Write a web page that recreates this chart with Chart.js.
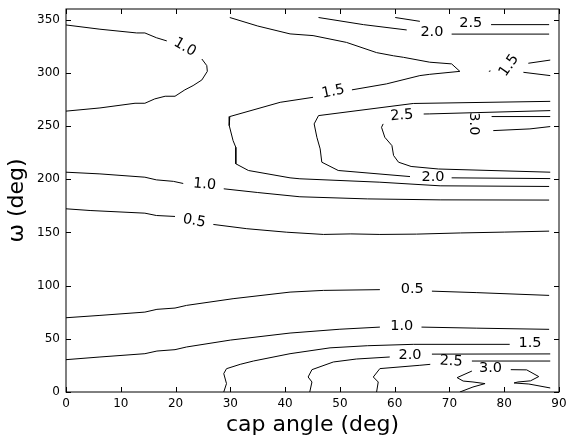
<!DOCTYPE html>
<html>
<head>
<meta charset="utf-8">
<script src="https://cdn.jsdelivr.net/npm/chart.js@4/dist/chart.umd.min.js"></script>
<style>
  html, body { margin: 0; padding: 0; background: #fff; }
  #wrap { width: 568px; height: 439px; }
</style>
</head>
<body>
<div id="wrap"><canvas id="contourChart"></canvas></div>
<script>
// Tick values
const xTicks = [0, 10, 20, 30, 40, 50, 60, 70, 80, 90];
const yTicks = [0, 50, 100, 150, 200, 250, 300, 350];

// Contour lines as [cap angle, omega] pairs, null = gap for an inline label
const lvl05Upper = [[0,172.2],[4.4,170.6],[14.4,168.1],[16.5,165.9],[19.9,165],null,[26.9,157.5],[33,153.5],[40.3,150.2],[47,148.1],[52,148.6],[57.3,148.1],[64,148.4],[72,149.5],[80,150.3],[88.2,151.2]];
const lvl05Lower = [[0,69.8],[6.2,72],[14.4,75.1],[16.6,77.7],[19.9,78.9],[22,81.4],[30.5,87.7],[40.9,93.9],[47,95.5],[57.3,96.2],null,[66.8,94.8],[75,93.4],[88.2,90.8]];
const lvl10Loop = [[0,345],[6.2,341],[12.9,337.5],[14.4,337.5],[16.5,333],[18.4,330],null,[24.8,313],[25.7,306.8],[25.8,301.4],[24.8,293.3],[23.2,288],[21.7,284],[19.9,278],[18.1,278],[16.2,275.5],[14.4,271.4],[12.6,271.4],[6.2,267],[0,264]];
const lvl10Mid = [[0,206.6],[6.2,205],[14.4,201.9],[16.5,199.4],[19.6,198],[21.4,196],null,[28.8,191],[35,187.5],[42.7,183.5],[55,181.5],[68.3,180.6],[88.2,180.4]];
const lvl10Low = [[0,30.4],[6.2,32.9],[14.4,36],[16.6,38.5],[19.9,39.8],[22,42.3],[30,48.8],[40.9,55.4],[50,59],[57.3,61],null,[64.9,61],[75,60],[88.2,58.9]];
const lvl15Main = [[29.9,352],[35,344],[40.9,336.6],[45.1,335],[51.2,328.6],[56.7,319],[59.8,316],[61.6,314.6],[66.4,310],[70.4,308.4],[71.9,301.4],[66.4,298.6],[64.6,297.4],[58.5,289.6],[52.2,284],null,[45.1,277],[39.1,272.3],[29.9,258.9],[29.8,250.4],[30.5,236.3],[31,230],[31,214.5],[33.3,208.2],[40.9,201.3],[42.7,200.4],[57.3,197.2],[68.3,193.8],[88.2,193.2]];
const lvl15Edge = [[88.4,312],[84.4,309],null,[83.5,300.5],[88.4,297.4]];
const lvl15Dot = [[77.2,301.4],[77.5,301.8]];
const lvl15Low = [[28.8,0],[29.3,7.9],[28.8,17.3],[29.3,21.9],[31.8,26],[34.2,29.1],[40.9,36],[48.2,41.5],[55,43.5],[63.4,44.8],[81,44.8]];
const lvl20Top = [[46.1,352],[54.3,345.3],[62.2,340.3],null,[70.4,336.4],[88.2,336.4]];
const lvl20Inner = [[88.4,273.2],[63.4,271.2],[46.1,259.8],[45.3,252],[45.8,239.4],[46.4,228.5],[46.7,216],[49.7,208.2],[62.8,202.5],null,[70.4,201.3],[88.4,200.6]];
const lvl20Low = [[44.5,0],[44.9,9.4],[44.2,14.1],[44.9,21],[48.8,28.2],[53,31],[59.1,32.9],null,[66.8,35.6],[88.4,35.8]];
const lvl25Top = [[60.1,352],[64.6,348.4],null,[77.6,345.3],[88.2,345.3]];
const lvl25Inner = [[88.4,264.5],[66.4,261.4],[65.3,261.3],null,[57.9,252],[57.6,248.8],[58.2,239.4],[59.5,231.6],[59.8,222.3],[60.7,216],[63,212],[68,209.6],[88.4,206.6]];
const lvl25Low = [[56.7,0],[57,9.4],[56.1,14.1],[57.3,22],[64.6,25.1],[66.5,26],null,[74.1,29.1],[88.4,29.1]];
const lvl30Inner = [[88.4,258.9],[77.7,258.9],null,[78,245.7],[84.7,247.3],[88.4,249.5]];
const lvl30Low = [[71.9,0],[74.3,4.7],[76.5,7.9],[74.3,9.4],[72.5,10.3],[71.4,13.5],[74.1,19.7],null,[81.2,21],[84.1,20.8],[86.3,14.5],[84.8,10.5],[82.5,9.4],[81.8,8.5],[84.5,7.5],[88.4,3.8]];

// Inline contour labels
const labelText = ['1.0', '1.5', '2.0', '2.5', '1.5', '2.5', '3.0', '2.0', '1.0', '0.5', '0.5', '1.0', '1.5', '2.0', '2.5', '3.0'];
const labelX = [21.7, 48.8, 66.8, 73.9, 80.9, 61.3, 74.4, 67, 25.3, 23.4, 63.2, 61.3, 84.7, 62.8, 70.3, 77.5];
const labelY = [324, 282.2, 338.5, 346.8, 306.8, 259.8, 252, 202, 195, 160.7, 96.2, 61.7, 45.4, 34.2, 28.9, 22];
const labelAngle = [30, -12, 0, 0, -55, -5, 90, 0, 5, 10, 0, 0, 0, 0, 3, 0];

const contours = [lvl05Upper, lvl05Lower, lvl10Loop, lvl10Mid, lvl10Low, lvl15Main, lvl15Edge, lvl15Dot, lvl15Low,
    lvl20Top, lvl20Inner, lvl20Low, lvl25Top, lvl25Inner, lvl25Low, lvl30Inner, lvl30Low];

const FONT = '"DejaVu Sans", sans-serif';

const toPoints = (pairs) => pairs.map(p => p ? { x: p[0], y: p[1] } : { x: null, y: null });

// Frame, inward ticks and contour labels
const contourExtras = {
    id: 'contourExtras',
    afterDraw(chart) {
        const { ctx, chartArea: a, scales: { x, y } } = chart;
        ctx.save();
        ctx.strokeStyle = '#000';
        ctx.lineWidth = 1;
        ctx.strokeRect(a.left, a.top, a.right - a.left, a.bottom - a.top);
        ctx.beginPath();
        xTicks.forEach(v => {
            const px = Math.round(x.getPixelForValue(v)) + 0.5;
            ctx.moveTo(px, a.bottom); ctx.lineTo(px, a.bottom - 5);
            ctx.moveTo(px, a.top); ctx.lineTo(px, a.top + 5);
        });
        yTicks.forEach(v => {
            const py = Math.round(y.getPixelForValue(v)) + 0.5;
            ctx.moveTo(a.left, py); ctx.lineTo(a.left + 5, py);
            ctx.moveTo(a.right, py); ctx.lineTo(a.right - 5, py);
        });
        ctx.stroke();

        ctx.fillStyle = '#000';
        ctx.font = '14.5px ' + FONT;
        ctx.textAlign = 'center';
        ctx.textBaseline = 'middle';
        labelText.forEach((t, i) => {
            ctx.save();
            ctx.translate(x.getPixelForValue(labelX[i]), y.getPixelForValue(labelY[i]));
            ctx.rotate(labelAngle[i] * Math.PI / 180);
            ctx.fillText(t, 0, 0);
            ctx.restore();
        });
        ctx.restore();
    }
};

new Chart(document.getElementById('contourChart'), {
    type: 'line',
    data: {
        datasets: contours.map(c => ({
            data: toPoints(c),
            borderColor: '#000',
            borderWidth: 1,
            pointRadius: 0,
            fill: false,
            tension: 0,
            spanGaps: false
        }))
    },
    options: {
        responsive: true,
        maintainAspectRatio: false,
        animation: false,
        layout: { padding: { top: 9, right: 9, left: 0, bottom: 0 } },
        plugins: { legend: { display: false }, tooltip: { enabled: false } },
        scales: {
            x: {
                type: 'linear',
                min: 0,
                max: 90,
                afterBuildTicks: s => { s.ticks = xTicks.map(v => ({ value: v })); },
                afterFit: s => { s.height = 47; s.paddingLeft = 0; s.paddingRight = 0; },
                grid: { display: false, drawTicks: false },
                border: { display: false },
                ticks: { color: '#000', font: { family: FONT, size: 12 }, padding: 5, maxRotation: 0 },
                title: { display: true, text: 'cap angle (deg)', color: '#000', font: { family: FONT, size: 22 }, padding: { top: 0, bottom: 1 } }
            },
            y: {
                type: 'linear',
                min: 0,
                max: 360,
                afterBuildTicks: s => { s.ticks = yTicks.map(v => ({ value: v })); },
                afterFit: s => { s.width = 66; s.paddingTop = 0; s.paddingBottom = 0; },
                grid: { display: false, drawTicks: false },
                border: { display: false },
                ticks: { color: '#000', font: { family: FONT, size: 12 }, padding: 6 },
                title: { display: true, text: 'ω (deg)', color: '#000', font: { family: FONT, size: 22 }, padding: { top: 4, bottom: 0 } }
            }
        }
    },
    plugins: [contourExtras]
});
</script>
</body>
</html>
